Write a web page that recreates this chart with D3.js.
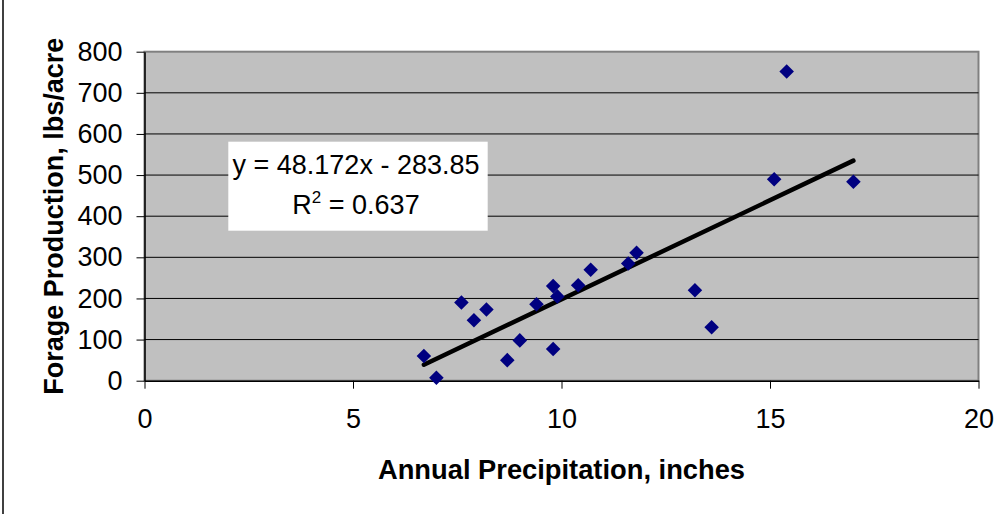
<!DOCTYPE html>
<html>
<head>
<meta charset="UTF-8">
<script src="https://d3js.org/d3.v7.min.js"></script>
<style>
  body { margin: 0; background: #fff; }
  text { font-family: "Liberation Sans", Arial, sans-serif; }
</style>
</head>
<body>
<svg id="chart" width="1007" height="514"></svg>
<script>
  // Data
  const precip  = [6.7, 7.0, 7.6, 7.9, 8.2, 8.7, 9.0, 9.4, 9.8, 9.8, 9.9, 10.4, 10.7, 11.6, 11.8, 13.2, 13.6, 15.1, 15.4, 17.0];
  const forage  = [60, 7, 190, 147, 173, 50, 98, 186, 77, 230, 205, 232, 270, 285, 311, 220, 130, 490, 752, 484];
  const xTicks  = [0, 5, 10, 15, 20];
  const yTicks  = [0, 100, 200, 300, 400, 500, 600, 700, 800];
  const slope = 48.172, intercept = -283.85, r2 = 0.637;

  const svg = d3.select("#chart");
  const plotL = 144.5, plotR = 978.5, plotT = 51.7, plotB = 380.7;

  const x = d3.scaleLinear().domain([0, 20]).range([plotL, plotR]);
  const y = d3.scaleLinear().domain([0, 800]).range([plotB, plotT]);

  // outer chart border (only left edge visible)
  svg.append("line").attr("x1", 3).attr("x2", 3).attr("y1", 0).attr("y2", 514)
    .attr("stroke", "#000").attr("stroke-width", 1.5);

  // plot area
  svg.append("rect").attr("x", plotL).attr("y", plotT)
    .attr("width", plotR - plotL).attr("height", plotB - plotT)
    .attr("fill", "#c0c0c0").attr("stroke", "#808080").attr("stroke-width", 2);

  // gridlines
  svg.append("g").selectAll("line")
    .data(yTicks.filter(d => d > 0 && d < 800)).enter()
    .append("line")
    .attr("x1", plotL).attr("x2", plotR)
    .attr("y1", d => y(d)).attr("y2", d => y(d))
    .attr("stroke", "#000").attr("stroke-width", 1);

  // Y axis
  const yAxis = svg.append("g")
    .attr("transform", "translate(" + plotL + ",0)")
    .call(d3.axisLeft(y).tickValues(yTicks).tickSize(8).tickPadding(14).tickSizeOuter(0));
  yAxis.selectAll("text").attr("font-size", "27px").attr("fill", "#000")
    .style("font-family", "'Liberation Sans', Arial, sans-serif");

  // X axis
  const xAxis = svg.append("g")
    .attr("transform", "translate(0," + plotB + ")")
    .call(d3.axisBottom(x).tickValues(xTicks).tickSize(8).tickPadding(20).tickSizeOuter(0));
  xAxis.selectAll("text").attr("font-size", "27px").attr("fill", "#000")
    .style("font-family", "'Liberation Sans', Arial, sans-serif");
  svg.selectAll(".domain").attr("stroke", "#000").attr("stroke-width", 1.5);
  svg.selectAll(".tick line").attr("stroke", "#000");

  // trendline
  const xMin = d3.min(precip), xMax = d3.max(precip);
  svg.append("line")
    .attr("x1", x(xMin)).attr("y1", y(slope * xMin + intercept))
    .attr("x2", x(xMax)).attr("y2", y(slope * xMax + intercept))
    .attr("stroke", "#000").attr("stroke-width", 4.5).attr("stroke-linecap", "round");

  // points
  const diamond = d3.symbol().type(d3.symbolDiamond2).size(135);
  svg.append("g").selectAll("path")
    .data(precip.map((p, i) => [p, forage[i]])).enter()
    .append("path")
    .attr("d", diamond)
    .attr("transform", d => "translate(" + x(d[0]) + "," + y(d[1]) + ")")
    .attr("fill", "#000080");

  // equation box
  svg.append("rect").attr("x", 228.3).attr("y", 141.7)
    .attr("width", 259.4).attr("height", 89).attr("fill", "#fff");
  svg.append("text").attr("x", 356).attr("y", 174.3)
    .attr("text-anchor", "middle").attr("font-size", "27px")
    .text("y = " + slope + "x - " + Math.abs(intercept).toFixed(2));
  const r2t = svg.append("text").attr("x", 356).attr("y", 214)
    .attr("text-anchor", "middle").attr("font-size", "27px");
  r2t.append("tspan").text("R");
  r2t.append("tspan").attr("font-size", "17px").attr("dy", -11).text("2");
  r2t.append("tspan").attr("dy", 11).text(" = " + r2);

  // axis titles
  svg.append("text").attr("x", (plotL + plotR) / 2).attr("y", 479)
    .attr("text-anchor", "middle").attr("font-size", "27.3px").attr("font-weight", "bold")
    .text("Annual Precipitation, inches");
  svg.append("text")
    .attr("transform", "translate(62.7," + ((plotT + plotB) / 2) + ") rotate(-90)")
    .attr("text-anchor", "middle").attr("font-size", "27px").attr("font-weight", "bold")
    .text("Forage Production, lbs/acre");
</script>
</body>
</html>
